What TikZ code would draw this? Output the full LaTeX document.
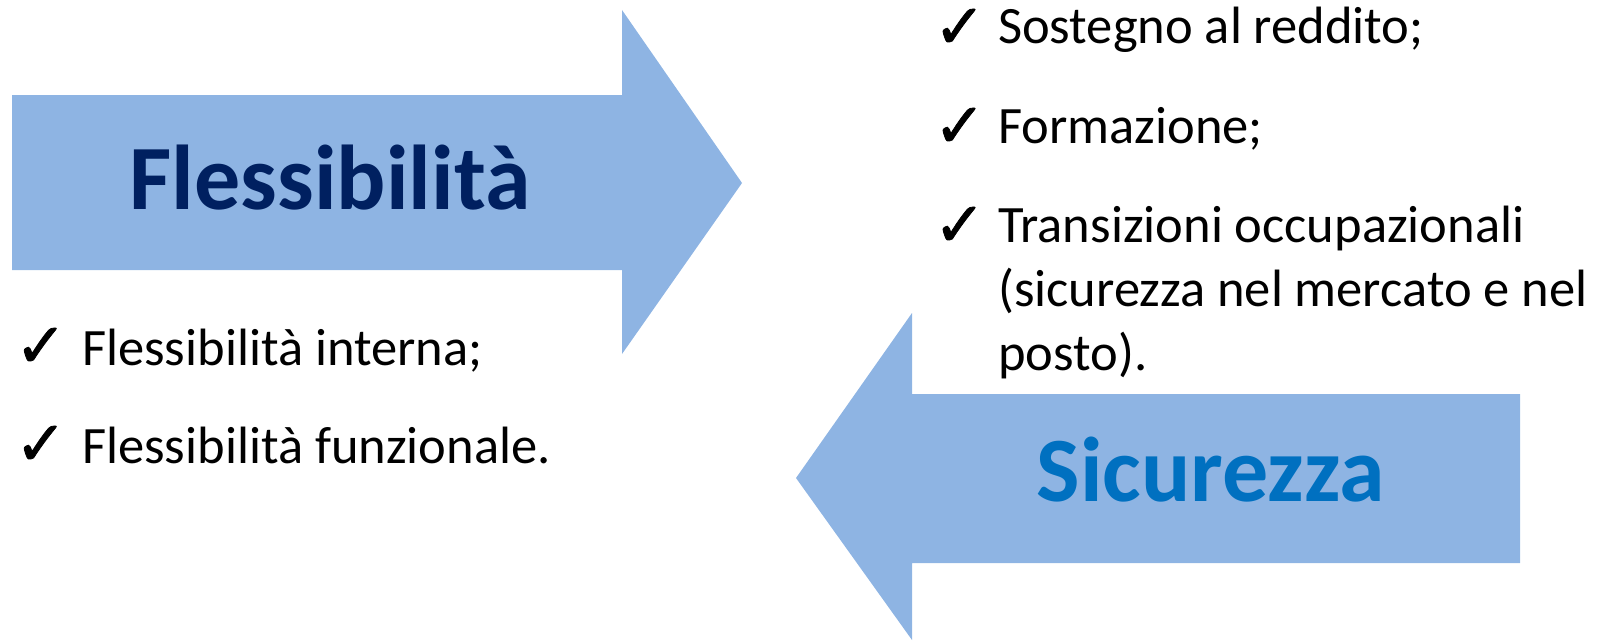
\documentclass[tikz,border=0pt]{standalone}
\usepackage{fontspec}
\setmainfont{Carlito}
\newfontfamily\tickfont[FakeBold=1.3]{DejaVu Sans}
\usetikzlibrary{positioning}

\definecolor{arrowblue}{HTML}{8EB4E3}
\definecolor{navy}{HTML}{002060}
\definecolor{midblue}{HTML}{0070C0}

\begin{document}
\begin{tikzpicture}[x=1pt,y=-1pt,
  title/.style={inner sep=0pt,anchor=base,font=\fontsize{92}{110}\selectfont\bfseries},
  item/.style={inner sep=0pt,anchor=base west,font=\fontsize{52.5}{64}\selectfont},
  tick/.style={inner sep=0pt,anchor=base west,font=\tickfont\fontsize{62}{64}\selectfont}]
\useasboundingbox (0,0) rectangle (1601,642);
%\draw[help lines, color=gray!30] (0,0) grid[step=100] (1601,642);
% arrows
\fill [arrowblue] (12,95) -- (622,95) -- (622,10) -- (742,183) -- (622,354) -- (622,270) -- (12,270) -- cycle;
\fill [arrowblue] (1520,394) -- (912,394) -- (912,313) -- (796,478) -- (912,640) -- (912,563) -- (1520,563) -- cycle;
\node [title,text=navy] (flex) at (330,209) {Flessibilità};
\node [title,text=midblue] (sic) at (1211,501) {Sicurezza};
% right list
\node [tick] (tickA) at (933.5,48) {✓};
\node [item] (sostegno) at (998,44) {Sostegno al reddito;};
\node [tick] (tickB) at (933.5,147) {✓};
\node [item] (formazione) at (998,143) {Formazione;};
\node [tick] (tickC) at (933.5,246) {✓};
\node [item] (trans1) at (998,242) {Transizioni occupazionali};
\node [item] (trans2) at ([yshift=-64pt]trans1.base west) {(sicurezza nel mercato e nel};
\node [item] (trans3) at ([yshift=-64pt]trans2.base west) {posto).};
% left list
\node [tick] (tickD) at (14.7,367) {✓};
\node [item] (interna) at (82,365) {Flessibilità interna;};
\node [tick] (tickE) at (14.7,465) {✓};
\node [item] (funzionale) at (82,463) {Flessibilità funzionale.};
\end{tikzpicture}
\end{document}
